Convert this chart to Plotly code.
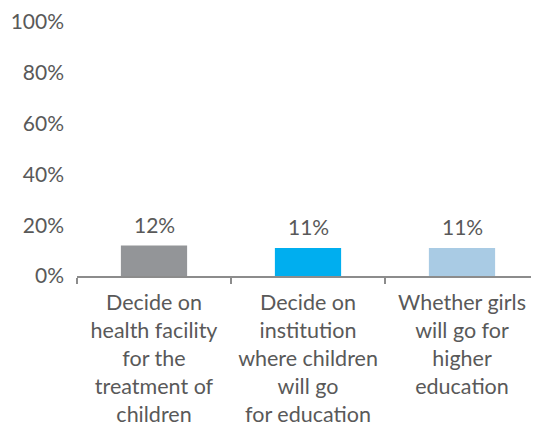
import plotly.graph_objects as go

categories = [
    "Decide on<br>health facility<br>for the<br>treatment of<br>children",
    "Decide on<br>institution<br>where children<br>will go<br>for education",
    "Whether girls<br>will go for<br>higher<br>education",
]
values = [0.12, 0.11, 0.11]
labels = ["12%", "11%", "11%"]
colors = ["#939598", "#00AEEF", "#A9CBE4"]

FONT = "Lato, Open Sans, sans-serif"

fig = go.Figure(go.Bar(
    x=categories, y=values, marker_color=colors, marker_line_width=0,
    width=0.43,
))
for c, v, t in zip(categories, values, labels):
    fig.add_annotation(x=c, y=v, text=t, showarrow=False, yanchor="bottom",
                       yshift=7, font=dict(family=FONT, size=21, color="#595959"))
fig.update_layout(
    width=531, height=424,
    margin=dict(l=69, r=0, t=14, b=156),
    paper_bgcolor="white", plot_bgcolor="white",
    font=dict(family=FONT, size=21, color="#595959"),
    showlegend=False,
)
fig.update_yaxes(range=[0, 1], tickvals=[0, 0.2, 0.4, 0.6, 0.8, 1.0],
                 tickformat=".0%", showgrid=False, zeroline=False, showline=False,
                 automargin=False,
                 tickfont=dict(family=FONT, size=21, color="#595959"), ticklabelstandoff=12)
fig.update_xaxes(showline=True, linecolor="#8C8C8C", linewidth=2,
                 ticks="outside", tickson="boundaries", ticklen=6,
                 tickcolor="#8C8C8C", tickwidth=2, automargin=False,
                 ticklabelstandoff=6,
                 tickfont=dict(family=FONT, size=21.5, color="#595959"))
fig.write_html("out.html")
